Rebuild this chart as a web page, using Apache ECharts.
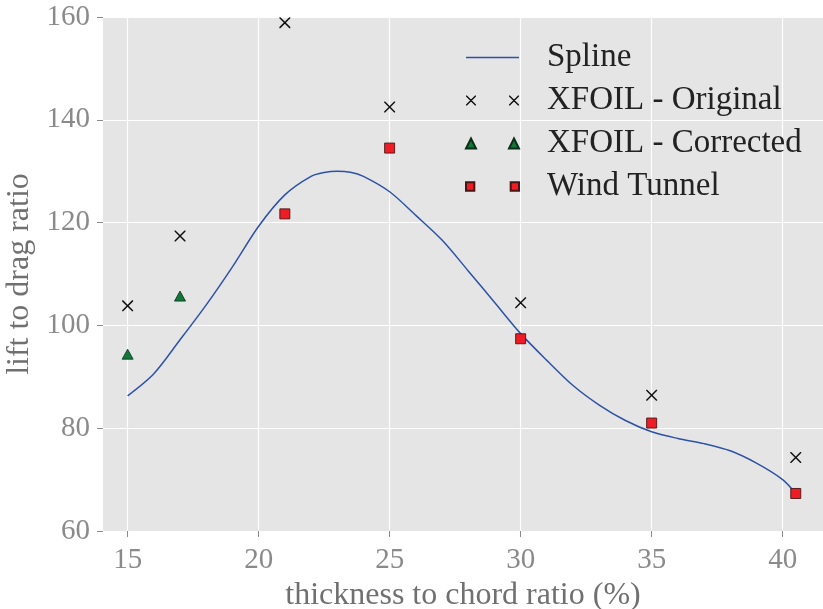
<!DOCTYPE html>
<html>
<head>
<meta charset="utf-8">
<script src="https://cdn.jsdelivr.net/npm/echarts@6/dist/echarts.min.js"></script>
<style>
html,body{margin:0;padding:0;background:#fff;}
#c{width:823px;height:609px;}
</style>
</head>
<body>
<div id="c"></div>
<script>
// ---- data ----
const splineX = [15,16,17,18,19,20,21,22,22.5,23,23.5,24,25,26,27,28,29,30,31,32,33,34,35,36,37,38,39,40,40.5];
const splineY = [86.3,90.6,97.2,104.0,111.4,119.3,125.4,129.0,129.75,130.0,129.8,129.0,126.0,121.4,116.6,110.6,104.5,98.4,93.2,88.3,84.5,81.5,79.3,78.0,77.0,75.6,73.2,70.0,67.3];
const origX = [15,17,21,25,30,35,40.5];
const origY = [103.8,117.4,158.9,142.5,104.4,86.4,74.3];
const corrX = [15,17];
const corrY = [94.4,105.7];
const windX = [21,25,30,35,40.5];
const windY = [121.7,134.5,97.4,81.0,67.3];
const xTicks = [15,20,25,30,35,40];
const yTicks = [60,80,100,120,140,160];
const seriesNames = ['Spline','XFOIL - Original','XFOIL - Corrected','Wind Tunnel'];

const zip = (a,b) => a.map((v,i)=>[v,b[i]]);

// marker paths
function xPath(ox, t){
  return `M${ox},0L${ox+t},0L${ox+10},${10-t}L${ox+10},10L${ox+10-t},10L${ox},${t}Z` +
         `M${ox+10},0L${ox+10},${t}L${ox+t},10L${ox},10L${ox},${10-t}L${ox+10-t},0Z`;
}
const X_SYM = 'path://' + xPath(0, 0.95);
const X_LEG = 'path://' + xPath(0, 1.0) + xPath(43, 1.0);
const T_LEG = 'path://M0,10L5,0L10,10Z M43,10L48,0L53,10Z';
const S_LEG = 'path://M1,1L9,1L9,9L1,9Z M44,1L52,1L52,9L44,9Z';
const L_LEG = 'path://M0,4.3L53,4.3L53,5.7L0,5.7Z M0,0L0.01,0L0,0.01Z M53,10L52.99,10L53,9.99Z';

const FONT = '"Liberation Serif", "DejaVu Serif", serif';
const chart = echarts.init(document.getElementById('c'), null, {renderer:'canvas'});
chart.setOption({
  backgroundColor:'#ffffff',
  animation:false,
  grid:{left:103, top:17, right:0, bottom:78, show:true, backgroundColor:'#e5e5e5', borderWidth:0,
        containLabel:false, outerBoundsMode:'none'},
  xAxis:{
    type:'value', min:14.06, max:41.54,
    name:'thickness to chord ratio (%)', nameLocation:'middle', nameGap:33,
    nameTextStyle:{fontFamily:FONT, fontSize:32, color:'#707070'},
    axisLine:{show:false},
    axisTick:{show:true, length:6, inside:false, customValues:xTicks, lineStyle:{color:'#8a8a8a', width:1}},
    axisLabel:{customValues:xTicks, margin:15, fontFamily:FONT, fontSize:29, color:'#8a8a8a'},
    splitLine:{show:true, lineStyle:{color:'#ffffff', width:1.2}}
  },
  yAxis:{
    type:'value', min:60, max:160, interval:20,
    name:'lift to drag ratio', nameLocation:'middle', nameGap:56,
    nameTextStyle:{fontFamily:FONT, fontSize:32, color:'#707070'},
    axisLine:{show:false},
    axisTick:{show:true, length:6, inside:false, lineStyle:{color:'#8a8a8a', width:1}},
    axisLabel:{margin:13, fontFamily:FONT, fontSize:29, color:'#8a8a8a'},
    splitLine:{show:true, lineStyle:{color:'#ffffff', width:1.2}}
  },
  legend:{
    orient:'vertical', left:465, top:41, padding:0, itemGap:10,
    itemWidth:53, itemHeight:10,
    textStyle:{fontFamily:FONT, fontSize:33, color:'#222222', lineHeight:30, padding:[0,0,0,23]},
    data:[
      {name:seriesNames[0], icon:L_LEG, itemStyle:{color:'#2c52a8', borderWidth:0}},
      {name:seriesNames[1], icon:X_LEG, itemStyle:{color:'#111111', borderWidth:0}},
      {name:seriesNames[2], icon:T_LEG},
      {name:seriesNames[3], icon:S_LEG}
    ]
  },
  series:[
    {name:seriesNames[0], type:'line', data:zip(splineX,splineY), smooth:0.3, symbol:'none',
     lineStyle:{color:'#2c52a8', width:1.5}, itemStyle:{color:'#2c52a8'}, z:2},
    {name:seriesNames[1], type:'scatter', data:zip(origX,origY), symbol:X_SYM, symbolSize:11,
     itemStyle:{color:'#111111', borderWidth:0, opacity:1}, z:3},
    {name:seriesNames[2], type:'scatter', data:zip(corrX,corrY), symbol:'triangle', symbolSize:[11,10],
     itemStyle:{color:'#12783a', borderColor:'#0a2e16', borderWidth:0.8, opacity:1}, z:3},
    {name:seriesNames[3], type:'scatter', data:zip(windX,windY), symbol:'rect', symbolSize:10,
     itemStyle:{color:'#ee1c24', borderColor:'#4a1414', borderWidth:0.9, opacity:1}, z:4}
  ]
});
</script>
</body>
</html>
